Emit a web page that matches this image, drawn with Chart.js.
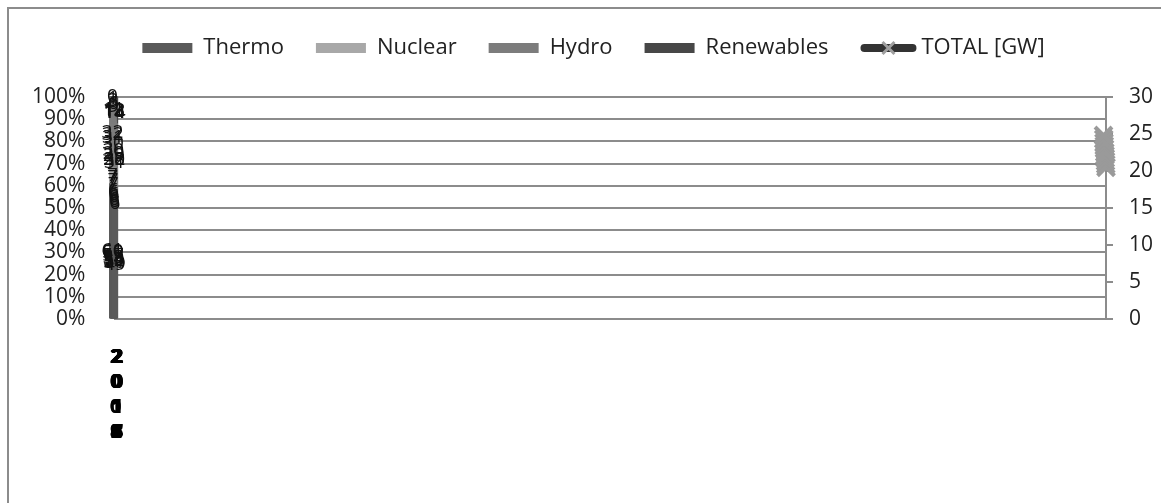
<!DOCTYPE html>
<html>
<head>
<meta charset="utf-8">
<script src="https://cdn.jsdelivr.net/npm/chart.js@4.4.0/dist/chart.umd.min.js"></script>
<style>
  html, body { margin: 0; padding: 0; background: #fff; overflow: hidden; }
  .frame { position: absolute; left: 7px; top: 7px; width: 1180px; height: 520px; border: 2px solid #8c8c8c; }
  #wrap { position: absolute; left: 0; top: 0; width: 1175px; height: 503px; }
</style>
</head>
<body>
<div class="frame"></div>
<div id="wrap"><canvas id="chart"></canvas></div>
<script>
// installed capacity shares (%) per year, and total capacity in GW
const years = [2008, 2009, 2010, 2011, 2012, 2013, 2014, 2015, 2016, 2017, 2018];
const thermo = [61, 60, 59, 57, 55, 54, 53, 52, 51, 50, 49];
const nuclear = [7, 7, 7, 7, 6, 6, 6, 6, 6, 6, 6];
const hydro = [32, 32, 31, 30, 30, 29, 29, 28, 30, 32, 31];
const renewables = [0, 1, 3, 6, 9, 11, 12, 14, 13, 12, 14];
const totalGW = [20.5, 20.9, 21.3, 21.7, 22.1, 22.5, 23.0, 23.4, 23.8, 24.3, 24.8];
const percentTicks = [0, 10, 20, 30, 40, 50, 60, 70, 80, 90, 100];

const FONT = '"Open Sans", "Noto Sans", sans-serif';

// every year ends up in the same couple of pixels, like the original
const xMin = years[0];
const xMax = years[0] + 4000;

const sums = years.map((y, i) => thermo[i] + nuclear[i] + hydro[i] + renewables[i]);
const toPoints = arr => arr.map((v, i) => ({ x: years[i], y: v / sums[i] * 100 }));

const barSet = (label, arr, color) => ({
  type: 'bar',
  label: label,
  shares: arr,
  data: toPoints(arr),
  backgroundColor: color,
  borderColor: color,
  barThickness: 6,
  clip: false,
  xAxisID: 'x',
  yAxisID: 'y'
});

// value labels in the middle of every segment
const barLabels = {
  id: 'barLabels',
  afterDatasetsDraw(chart) {
    const ctx = chart.ctx;
    ctx.save();
    ctx.font = '19px ' + FONT;
    ctx.fillStyle = '#111';
    ctx.textAlign = 'center';
    ctx.textBaseline = 'middle';
    chart.data.datasets.forEach((ds, i) => {
      if (ds.type !== 'bar') return;
      chart.getDatasetMeta(i).data.forEach((bar, j) => {
        ctx.fillText(ds.shares[j], bar.x, (bar.y + bar.base) / 2);
      });
    });
    ctx.restore();
  }
};

// extra room between the legend and the plot, legend nudged a bit right
const legendGap = {
  id: 'legendGap',
  beforeInit(chart) {
    const fit = chart.legend.fit;
    chart.legend.fit = function () {
      fit.call(this);
      this.height += 28;
    };
  },
  afterLayout(chart) {
    chart.legend.left += 8;
    chart.legend.right += 8;
  }
};

// line + grey cross as the TOTAL legend swatch
const legendMarker = {
  id: 'legendMarker',
  afterDraw(chart) {
    const legend = chart.legend;
    const idx = chart.data.datasets.findIndex(d => d.type === 'line');
    const box = legend.legendHitBoxes[idx];
    if (!box) return;
    const cy = box.top + box.height / 2;
    const ctx = chart.ctx;
    ctx.save();
    ctx.strokeStyle = '#333';
    ctx.lineWidth = 8;
    ctx.lineCap = 'round';
    ctx.beginPath();
    ctx.moveTo(box.left + 4, cy); ctx.lineTo(box.left + 52, cy);
    ctx.stroke();
    const cx = box.left + 28;
    ctx.strokeStyle = '#a0a0a0';
    ctx.lineWidth = 3;
    ctx.lineCap = 'butt';
    ctx.beginPath();
    ctx.moveTo(cx - 6, cy - 6); ctx.lineTo(cx + 6, cy + 6);
    ctx.moveTo(cx + 6, cy - 6); ctx.lineTo(cx - 6, cy + 6);
    ctx.stroke();
    ctx.restore();
  }
};

new Chart(document.getElementById('chart'), {
  data: {
    datasets: [
      barSet('Thermo', thermo, '#5a5a5a'),
      barSet('Nuclear', nuclear, '#a8a8a8'),
      barSet('Hydro', hydro, '#7c7c7c'),
      barSet('Renewables', renewables, '#474747'),
      {
        type: 'line',
        label: 'TOTAL [GW]',
        data: totalGW.map((v, i) => ({ x: years[i], y: v })),
        borderColor: '#333',
        backgroundColor: '#333',
        borderWidth: 5,
        pointStyle: 'crossRot',
        pointRadius: 12,
        pointBorderColor: '#9a9a9a',
        pointBorderWidth: 4,
        clip: false,
        xAxisID: 'x2',
        yAxisID: 'y1'
      }
    ]
  },
  options: {
    responsive: true,
    maintainAspectRatio: false,
    animation: false,
    layout: { padding: { top: 5, left: 2, right: 6, bottom: 40 } },
    plugins: {
      tooltip: { enabled: false },
      legend: {
        position: 'top',
        labels: {
          color: '#222',
          font: { family: FONT, size: 22 },
          boxWidth: 50,
          boxHeight: 10,
          padding: 32,
          generateLabels: chart => {
            const items = Chart.defaults.plugins.legend.labels.generateLabels(chart);
            items.forEach(it => {
              if (it.text === 'TOTAL [GW]') {
                it.fillStyle = 'rgba(0,0,0,0)';
                it.strokeStyle = 'rgba(0,0,0,0)';
              }
            });
            return items;
          }
        }
      }
    },
    scales: {
      x: {
        type: 'linear',
        min: xMin,
        max: xMax,
        offset: false,
        stacked: true,
        grid: { display: false },
        border: { display: false },
        afterBuildTicks: scale => { scale.ticks = years.map(v => ({ value: v })); },
        ticks: {
          autoSkip: false,
          maxRotation: 0,
          padding: 18,
          color: '#000',
          font: { family: FONT, size: 20, weight: 'bold', lineHeight: 1.25 },
          callback: v => String(v).split('')
        }
      },
      x2: {
        type: 'linear',
        min: xMin,
        max: xMax,
        offset: false,
        reverse: true,
        display: false
      },
      y: {
        stacked: true,
        min: 0,
        max: 100,
        afterBuildTicks: scale => { scale.ticks = percentTicks.map(v => ({ value: v })); },
        grid: { color: '#8c8c8c', lineWidth: 2, drawTicks: false },
        border: { display: true, color: '#8c8c8c', width: 2 },
        ticks: {
          autoSkip: false,
          padding: 30,
          color: '#222',
          font: { family: FONT, size: 21, lineHeight: 1 },
          callback: v => v + '%'
        }
      },
      y1: {
        position: 'right',
        min: 0,
        max: 30,
        grid: { drawOnChartArea: false, color: '#8c8c8c', lineWidth: 2, tickLength: 7 },
        border: { display: true, color: '#8c8c8c', width: 2 },
        ticks: {
          stepSize: 5,
          autoSkip: false,
          padding: 16,
          color: '#222',
          font: { family: FONT, size: 21 }
        }
      }
    }
  },
  plugins: [legendGap, barLabels, legendMarker]
});
</script>
</body>
</html>
